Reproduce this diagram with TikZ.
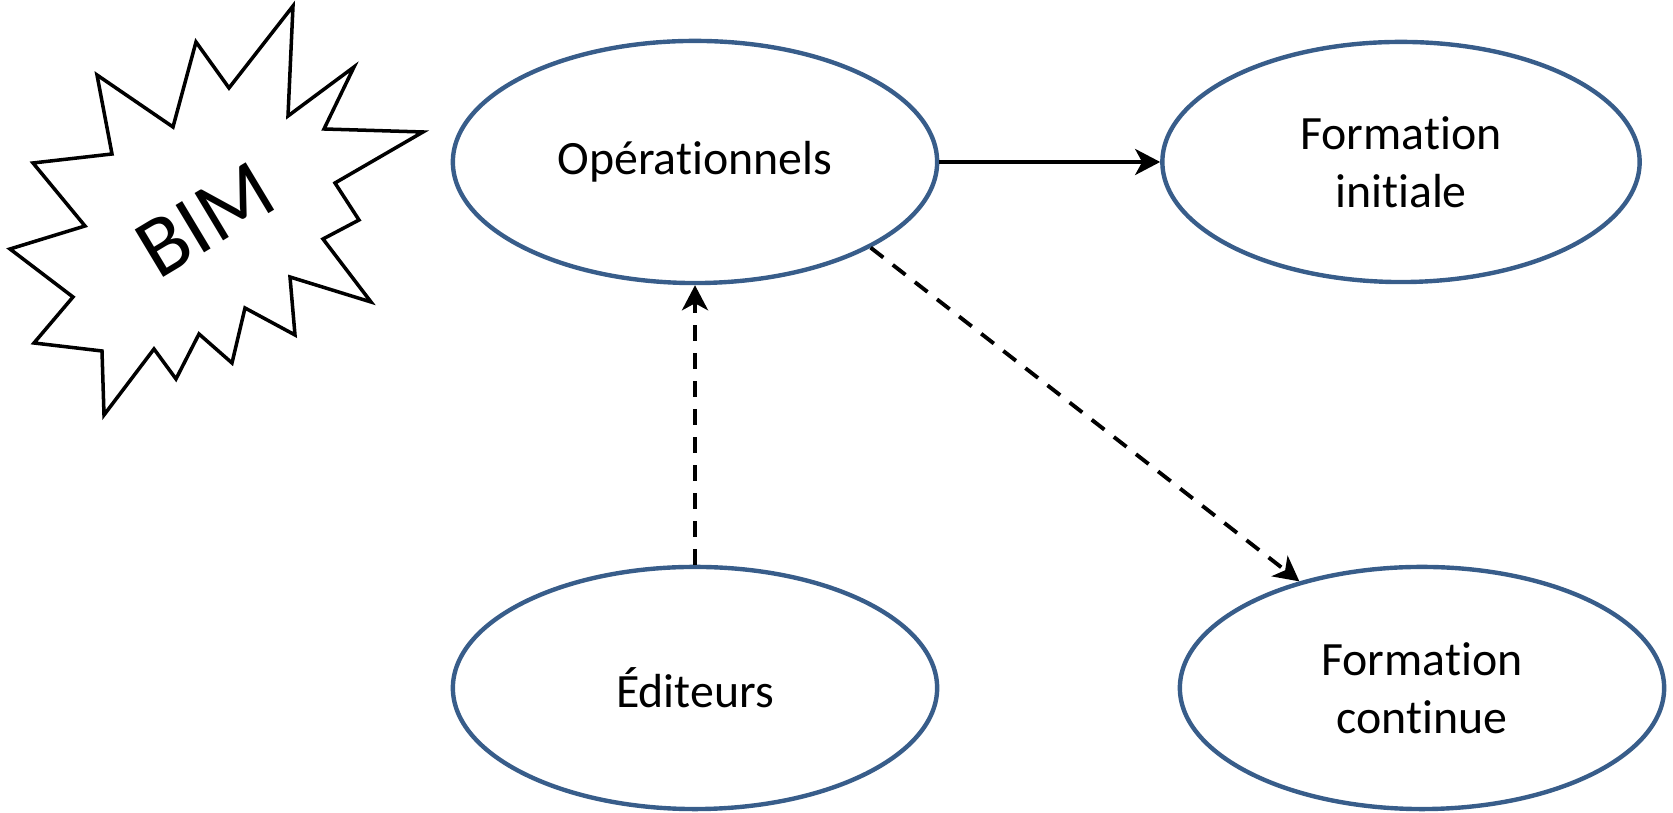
\documentclass[tikz,border=0pt]{standalone}
\usepackage{fontspec}
\setmainfont{Carlito}[Ligatures={NoCommon}]
\definecolor{ovalblue}{RGB}{56,93,138}
\usetikzlibrary{arrows.meta,shapes.geometric}

\begin{document}
\begin{tikzpicture}[x=0.01cm,y=0.01cm,
  every node/.style={font=\fontsize{13.6}{16.6}\selectfont},
  oval/.style={ellipse,draw=ovalblue,line width=1.25pt,minimum width=4.84cm,minimum height=2.42cm,align=center,inner sep=0pt},
  link/.style={line width=1.1pt,-{Stealth[length=0.25cm,width=0.26cm,inset=0.07cm]}},
  dashlink/.style={link,dash pattern=on 0.16cm off 0.12cm}]
  \useasboundingbox (0,0) rectangle (1673,813);
  \draw[line width=1pt,line join=miter] (293,807)--(288,697)--(354,746)--(324,684)--(423,681)--(335,630)--(359,593)--(323,574)--(371,511)--(290,536)--(295,478)--(245,505)--(232,450)--(199,479)--(176,434)--(154,464)--(104,398)--(102,462)--(34,470)--(73,516)--(10,564)--(85,587)--(33,650)--(112,659)--(97,738)--(173,686)--(196,771)--(229,725)--cycle;
  \node[rotate=31,font=\fontsize{24.5}{29}\selectfont] (bim) at (205,593) {BIM};
  \node[oval] (op) at (695,651) {Opérationnels};
  \node[oval,minimum width=4.77cm,minimum height=2.4cm] (fi) at (1401,651) {Formation\\initiale};
  \node[oval] (ed) at (695,125) {Éditeurs};
  \node[oval] (fc) at (1422,125) {Formation\\continue};
  \draw[link] (op.east) -- (fi.west);
  \draw[dashlink] (ed.north) -- (op.south);
  \draw[dashlink] (op.-26) -- (fc.139);
\end{tikzpicture}
\end{document}
